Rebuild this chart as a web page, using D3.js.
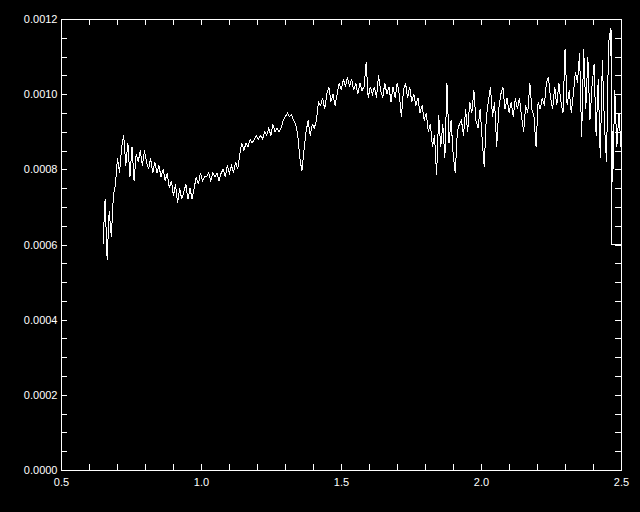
<!DOCTYPE html>
<html>
<head>
<meta charset="utf-8">
<script src="https://cdn.jsdelivr.net/npm/d3@7"></script>
<style>
  html, body { margin: 0; padding: 0; background: #000; }
  svg { display: block; }
</style>
</head>
<body>
<svg id="chart" width="640" height="512"></svg>
<script>
// spectrum on a uniform wavelength grid (microns)
const waveStart = 0.65;
const waveStep = 0.0074;

// flux, in units of 1e-4
const fluxValues = [
  6.0, 7.2, 5.6, 6.9, 6.2, 7.3, 7.6, 8.3, 7.9, 8.6,
  8.9, 8.1, 8.7, 7.8, 8.6, 7.7, 8.4, 8.2, 8.5, 8.1,
  8.5, 8.2, 8.0, 8.3, 7.9, 8.2, 7.9, 8.1, 7.8, 8.0,
  7.7, 7.9, 7.5, 7.7, 7.3, 7.6, 7.1, 7.5, 7.2, 7.4,
  7.6, 7.2, 7.5, 7.2, 7.5, 7.8, 7.6, 7.9, 7.7, 7.8,
  7.8, 7.9, 7.7, 7.9, 7.8, 7.9, 7.7, 7.9, 8.0, 7.8,
  8.1, 7.9, 8.1, 7.9, 8.2, 8.0, 8.4, 8.7, 8.5, 8.7,
  8.6, 8.8, 8.7, 8.8, 8.9, 8.8, 8.9, 8.8, 9.0, 8.9,
  9.1, 8.9, 9.2, 9.0, 9.1, 9.0, 9.1, 9.3, 9.4, 9.5,
  9.4, 9.45, 9.3, 9.2, 8.9, 8.3, 7.95, 8.5, 9.0, 9.3,
  8.9, 9.2, 9.1, 9.3, 9.8, 9.7, 9.9, 9.6, 10.0, 10.2,
  9.8, 10.0, 9.7, 10.0, 10.3, 10.1, 10.4, 10.2, 10.45, 10.2,
  10.4, 10.1, 10.3, 10.0, 10.3, 10.1, 10.2, 10.85, 9.9, 10.2,
  10.0, 10.2, 9.9, 10.5, 10.1, 9.9, 10.3, 10.0, 10.2, 9.8,
  10.2, 9.9, 10.3, 10.0, 9.4, 10.1, 10.3, 9.9, 10.2, 9.8,
  10.0, 9.7, 9.9, 9.5, 9.7, 9.3, 9.5, 9.0, 9.2, 8.6,
  8.9, 7.85, 9.45, 8.6, 9.2, 8.3, 10.3, 8.7, 9.3, 8.4,
  7.9, 9.0, 9.2, 9.3, 8.9, 9.6, 9.0, 9.8, 9.5, 10.1,
  9.3, 9.1, 9.6, 8.8, 8.05, 9.4, 9.8, 10.2, 9.4, 9.8,
  8.6, 9.6, 10.0, 10.2, 9.6, 9.9, 9.5, 9.8, 9.4, 9.9,
  9.6, 9.9, 9.4, 9.0, 9.7, 9.5, 10.3, 9.6, 9.4, 8.6,
  9.8, 9.6, 9.9, 9.7, 10.3, 10.45, 9.9, 9.6, 10.2, 9.7,
  10.3, 9.8, 9.5, 11.2, 9.7, 10.1, 9.5, 10.0, 10.6, 10.3,
  11.1, 8.85, 11.2, 9.6, 11.0, 9.3, 10.2, 10.8, 8.9, 10.4,
  8.3, 10.9, 9.2, 8.2, 11.35, 11.75, 7.65, 10.1, 8.6, 9.5,
  8.6
];

// trailing points after the grid (line runs back along the bottom edge)
const tailWave = [2.5, 2.465, 2.465];
const tailFlux = [6.0, 6.0, 11.7];

const xTicks = [0.5, 1.0, 1.5, 2.0, 2.5];
const yTicks = [0, 0.0002, 0.0004, 0.0006, 0.0008, 0.0010, 0.0012];

const svg = d3.select('#chart');
const plotLeft = 61, plotRight = 621, plotTop = 19, plotBottom = 470;
const tickLen = 6;

const x = d3.scaleLinear().domain([0.5, 2.5]).range([plotLeft, plotRight]);
const y = d3.scaleLinear().domain([0, 0.0012]).range([plotBottom, plotTop]);

svg.append('rect').attr('width', 640).attr('height', 512).attr('fill', '#000');

// data points
const points = fluxValues.map((f, i) => [waveStart + i * waveStep, f * 1e-4])
    .concat(tailWave.map((w, i) => [w, tailFlux[i] * 1e-4]));

const line = d3.line()
    .x(d => x(d[0]))
    .y(d => y(d[1]));

svg.append('path')
    .datum(points)
    .attr('d', line)
    .attr('fill', 'none')
    .attr('stroke', '#fff')
    .attr('stroke-width', 1)
    .attr('shape-rendering', 'crispEdges');

// minor tick positions
const xMinor = d3.range(0.5, 2.5001, 0.1).map(v => +v.toFixed(2));
const yMinor = d3.range(0, 0.00120001, 0.00005).map(v => +v.toFixed(6));

function styleAxis(g) {
    g.selectAll('path, line').attr('stroke', '#fff').attr('shape-rendering', 'crispEdges');
    g.selectAll('text')
        .attr('fill', '#fff')
        .style('font-family', 'Liberation Sans, Arial, sans-serif')
        .style('font-size', '11px');
}

// bottom
svg.append('g')
    .attr('transform', `translate(0,${plotBottom})`)
    .call(d3.axisBottom(x).tickValues(xTicks).tickFormat(d3.format('.1f'))
        .tickSize(-tickLen).tickPadding(8))
    .call(styleAxis);
svg.append('g')
    .attr('transform', `translate(0,${plotBottom})`)
    .call(d3.axisBottom(x).tickValues(xMinor).tickFormat('').tickSize(-tickLen))
    .call(styleAxis);

// top
svg.append('g')
    .attr('transform', `translate(0,${plotTop})`)
    .call(d3.axisTop(x).tickValues(xMinor).tickFormat('').tickSize(-tickLen))
    .call(styleAxis);

// left
svg.append('g')
    .attr('transform', `translate(${plotLeft},0)`)
    .call(d3.axisLeft(y).tickValues(yTicks).tickFormat(d3.format('.4f'))
        .tickSize(-tickLen).tickPadding(3.5))
    .call(styleAxis);
svg.append('g')
    .attr('transform', `translate(${plotLeft},0)`)
    .call(d3.axisLeft(y).tickValues(yMinor).tickFormat('').tickSize(-tickLen))
    .call(styleAxis);

// right
svg.append('g')
    .attr('transform', `translate(${plotRight},0)`)
    .call(d3.axisRight(y).tickValues(yMinor).tickFormat('').tickSize(-tickLen))
    .call(styleAxis);
</script>
</body>
</html>
